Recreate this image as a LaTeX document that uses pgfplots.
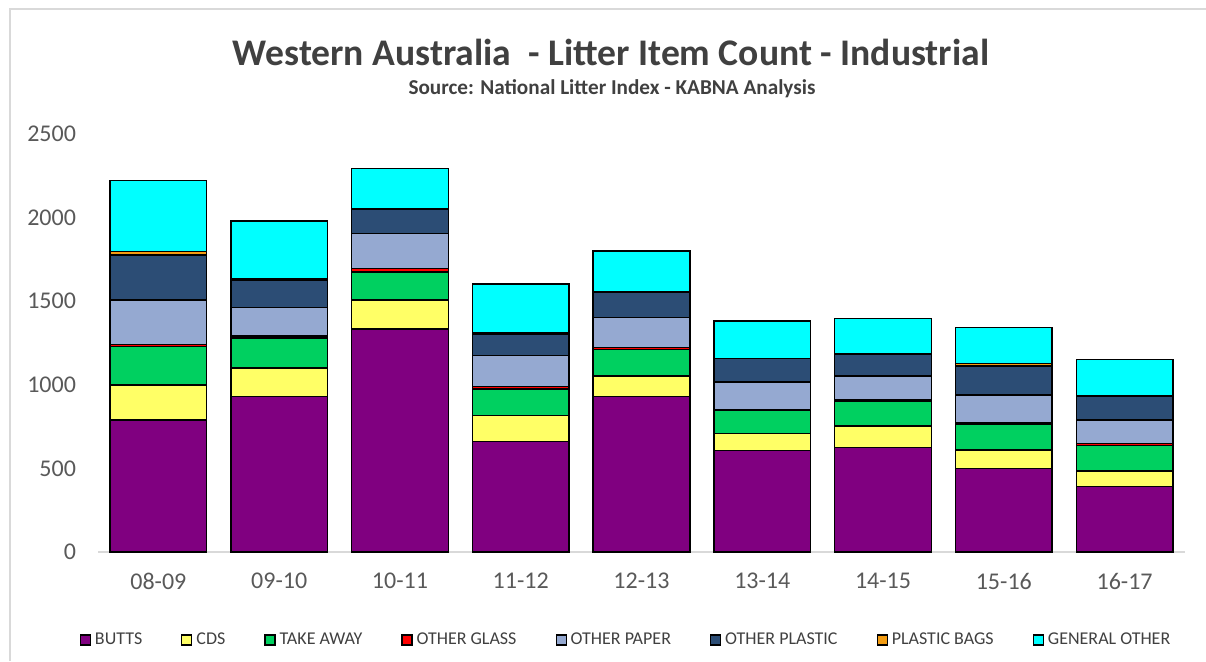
\documentclass[border=0pt]{standalone}
\usepackage{pgfplots}
\pgfplotsset{compat=1.18}
\usepackage{pgfplotstable}
\usepackage{fontspec}
\setmainfont{Carlito}
\definecolor{cButts}{HTML}{800080}
\definecolor{cCDS}{HTML}{FFFF66}
\definecolor{cTA}{HTML}{00D060}
\definecolor{cOG}{HTML}{FF0000}
\definecolor{cOP}{HTML}{95A9D1}
\definecolor{cOPl}{HTML}{2C4D75}
\definecolor{cPB}{HTML}{F39C12}
\definecolor{cGO}{HTML}{00FFFF}
\definecolor{txt}{HTML}{404040}
\definecolor{tick}{HTML}{595959}
\definecolor{border}{HTML}{D9D9D9}
\pgfplotstableread{
x butts cds ta og op opl pb go
0 790 210 230 12 265 270 20 425
1 930 172 178 12 170 162 8 348
2 1335 172 168 22 209 145 3 240
3 660 157 158 14 185 131 5 293
4 930 122 160 10 181 152 2 243
5 606 104 135 4 169 138 2 225
6 626 129 147 7 145 127 3 213
7 500 110 155 8 166 174 15 216
8 391 93 154 12 139 142 2 219
}\datatable
\begin{document}
\begin{tikzpicture}
\useasboundingbox (0,0) rectangle (603pt,330.5pt);
\draw[border, line width=1pt] (4.75pt,0) -- (4.75pt,326pt) -- (603pt,326pt);
\node[font=\fontsize{18.8}{22}\selectfont\bfseries, text=txt] at (305.5pt,304.5pt) {Western Australia\ \ - Litter Item Count - Industrial};
\node[font=\fontsize{10.6}{12}\selectfont\bfseries, text=txt] at (306pt,286pt) {Source: National Litter Index - KABNA Analysis};
\begin{axis}[
  at={(49pt,54.5pt)}, anchor=south west,
  scale only axis, width=543.5pt, height=209pt,
  xmin=-0.5, xmax=8.5, ymin=0, ymax=2500,
  ybar stacked, bar width=0.8,
  axis x line*=bottom, axis y line*=left,
  axis line style={-},
  x axis line style={draw=border, line width=1pt},
  y axis line style={draw=none},
  major tick length=0pt,
  xtick={0,...,8},
  xticklabels={08-09,09-10,10-11,11-12,12-13,13-14,14-15,15-16,16-17},
  ytick={0,500,...,2500},
  /pgf/number format/assume math mode=true,
  /pgf/number format/set thousands separator={},
  ticklabel style={font=\fontsize{12}{14}\selectfont, text=tick},
  yticklabel style={xshift=-7.5pt},
  xticklabel style={yshift=-7pt},
  every axis plot/.append style={draw=black, line width=0.75pt},
  legend columns=8,
  legend style={at={(0.4867,-0.2105)}, anchor=center, draw=none, fill=none,
    font=\fontsize{9}{10}\selectfont, text=txt,
    /tikz/every even column/.append style={column sep=17.5pt},
    inner sep=0pt},
  legend cell align=left,
  legend image code/.code={\draw[#1, draw=black, line width=0.6pt] (0pt,-2.5pt) rectangle (5pt,2.5pt);},
]
\addplot[fill=cButts] table[x=x,y=butts]{\datatable};
\addplot[fill=cCDS] table[x=x,y=cds]{\datatable};
\addplot[fill=cTA] table[x=x,y=ta]{\datatable};
\addplot[fill=cOG] table[x=x,y=og]{\datatable};
\addplot[fill=cOP] table[x=x,y=op]{\datatable};
\addplot[fill=cOPl] table[x=x,y=opl]{\datatable};
\addplot[fill=cPB] table[x=x,y=pb]{\datatable};
\addplot[fill=cGO] table[x=x,y=go]{\datatable};
\legend{BUTTS,CDS,TAKE AWAY,OTHER GLASS,OTHER PAPER,OTHER PLASTIC,PLASTIC BAGS,GENERAL OTHER}
\end{axis}
\end{tikzpicture}
\end{document}
